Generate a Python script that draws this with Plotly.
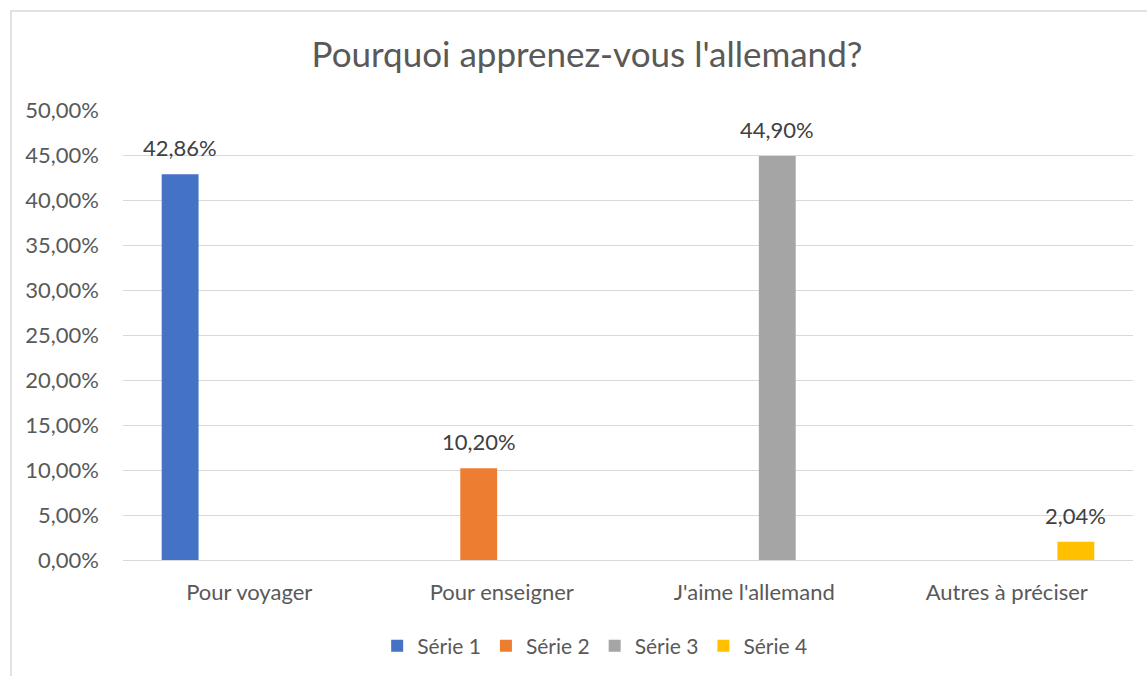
import plotly.graph_objects as go

categories = ["Pour voyager", "Pour enseigner", "J'aime l'allemand", "Autres à préciser"]
series_names = ["Série 1", "Série 2", "Série 3", "Série 4"]
serie1 = [0.4286, None, None, None]
serie2 = [None, 0.1020, None, None]
serie3 = [None, None, 0.4490, None]
serie4 = [None, None, None, 0.0204]
colors = ["#4472C4", "#ED7D31", "#A5A5A5", "#FFC000"]
y_ticks = [0, 0.05, 0.10, 0.15, 0.20, 0.25, 0.30, 0.35, 0.40, 0.45, 0.50]

def fr_pct(v):
    return f"{v*100:.2f}%".replace(".", ",")

font_family = "Lato, Open Sans, sans-serif"
bargap, bargroupgap = 0.27, 0.2
all_series = [serie1, serie2, serie3, serie4]
n_series = len(all_series)

fig = go.Figure()
for name, vals, col in zip(series_names, all_series, colors):
    fig.add_trace(go.Bar(
        x=categories, y=vals, name=name, marker=dict(color=col, line=dict(width=0)),
        hoverinfo="skip",
    ))

# data labels above bars, positioned from the grouped-bar layout
annotations = []
slot = (1 - bargap) / n_series
for si, vals in enumerate(all_series):
    for ci, v in enumerate(vals):
        if v is None:
            continue
        xpos = ci - (1 - bargap) / 2 + slot * (si + 0.5)
        annotations.append(dict(x=xpos, y=v, xref="x", yref="y", text=fr_pct(v),
                                showarrow=False, yanchor="bottom", yshift=11,
                                font=dict(size=22, color="#404040", family=font_family)))

W, H = 1147, 676
ml, mr, mt, mb = 123, 14, 110, 116
pw, ph = W - ml - mr, H - mt - mb

def px_x(p):
    return (p - ml) / pw

def px_y(p):
    return (H - mb - p) / ph

fig.update_layout(
    width=W, height=H,
    margin=dict(l=ml, r=mr, t=mt, b=mb, autoexpand=False),
    paper_bgcolor="white", plot_bgcolor="white",
    barmode="group", bargap=bargap, bargroupgap=bargroupgap,
    font=dict(family=font_family, color="#595959", size=22),
    title=dict(text="Pourquoi apprenez-vous l'allemand?", x=587 / W, xanchor="center",
               y=1 - 55 / H, yanchor="middle", font=dict(size=35, color="#595959")),
    legend=dict(orientation="h", x=0.467, xanchor="center", y=px_y(646), yanchor="middle",
                font=dict(size=21, color="#595959"), itemwidth=30, traceorder="normal"),
    xaxis=dict(showgrid=False, showline=False, ticks="", ticklabelstandoff=17,
               automargin=False, tickfont=dict(size=22, color="#595959")),
    yaxis=dict(range=[0, 0.5], tickvals=y_ticks, ticktext=[fr_pct(v) for v in y_ticks],
               showgrid=True, gridcolor="#D9D9D9", gridwidth=1, zeroline=True,
               zerolinecolor="#D9D9D9", zerolinewidth=1, showline=False, ticks="",
               automargin=False, ticklabelstandoff=23, tickfont=dict(size=22, color="#595959")),
    annotations=annotations,
    shapes=[dict(type="rect", xref="paper", yref="paper",
                 x0=px_x(11), x1=px_x(1160), y0=px_y(690), y1=px_y(11),
                 line=dict(color="#D9D9D9", width=1.5), fillcolor="rgba(0,0,0,0)", layer="below")],
    showlegend=True,
)
fig.write_html("out.html", config={"displayModeBar": False},
               post_script="document.body.style.margin='0';")
